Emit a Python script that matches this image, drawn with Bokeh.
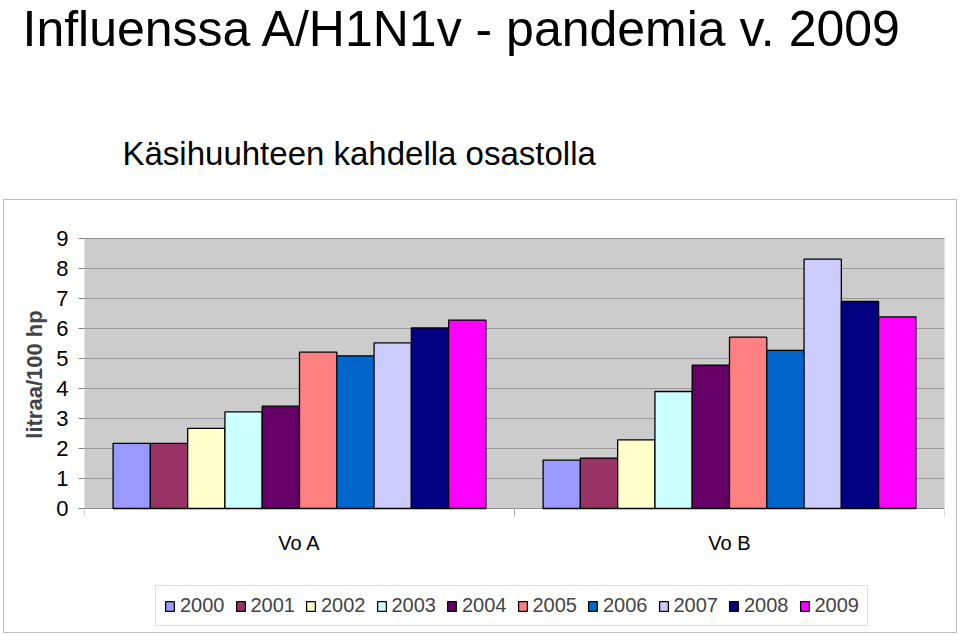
from bokeh.plotting import figure
from bokeh.models import (Range1d, FixedTicker, ColumnDataSource, Legend, LegendItem,
                          Title, BoxAnnotation)
from bokeh.core.properties import value
from bokeh.transform import dodge
from bokeh.embed import file_html
from bokeh.resources import INLINE

# ---- data ----
title_text = "Influenssa A/H1N1v - pandemia v. 2009"
subtitle_text = "Käsihuuhteen kahdella osastolla"
y_label = "litraa/100 hp"
departments = ["Vo A", "Vo B"]
years = ["2000", "2001", "2002", "2003", "2004", "2005", "2006", "2007", "2008", "2009"]
vo_a = [2.17, 2.17, 2.67, 3.22, 3.41, 5.21, 5.09, 5.52, 6.02, 6.28]
vo_b = [1.61, 1.68, 2.29, 3.90, 4.78, 5.71, 5.27, 8.31, 6.90, 6.39]
y_ticks = [0, 1, 2, 3, 4, 5, 6, 7, 8, 9]
colors = ["#9999FF", "#993366", "#FFFFCC", "#CCFFFF", "#660066",
          "#FF8080", "#0066CC", "#CCCCFF", "#000080", "#FF00FF"]

FONT = "Liberation Sans, Arial, sans-serif"

# ---- layout constants (pixels) ----
W, H = 960, 635
FRAME_L, FRAME_R, FRAME_T = 84, 944, 58
PLOT_TOP, PLOT_BOTTOM = 238, 508               # grey plot area (0..9)
y_max = max(y_ticks)
px_per_unit = (PLOT_BOTTOM - PLOT_TOP) / y_max
px_per_x = (FRAME_R - FRAME_L) / len(departments)

centers = [i + 0.5 for i in range(len(departments))]
edges = list(range(len(departments) + 1))
data = {"pos": centers}
for i, yr in enumerate(years):
    data[yr] = [vo_a[i], vo_b[i]]
source = ColumnDataSource(data=data)

p = figure(width=W, height=H, title=None,
           x_range=Range1d(0, len(departments)),
           y_range=Range1d((PLOT_BOTTOM - H) / px_per_unit, (PLOT_BOTTOM - FRAME_T) / px_per_unit),
           output_backend="svg", toolbar_location=None,
           x_axis_location=None, y_axis_location="left",
           min_border_left=FRAME_L, min_border_right=W - FRAME_R,
           min_border_top=FRAME_T, min_border_bottom=0)

# light frame round the chart area (decoration only)
p.stylesheets = [""":host { position: relative; }
:host::after { content: ''; position: absolute; left: 3px; top: 199px;
  width: 952px; height: 432px; border: 1px solid #bfbfbf; pointer-events: none; }"""]

p.background_fill_color = "white"
p.border_fill_color = "white"
p.outline_line_color = None
p.xgrid.visible = False
p.ygrid.grid_line_color = "#999999"
p.ygrid.grid_line_width = 1

# grey plot area below the grid, and its border above the grid
p.add_layout(BoxAnnotation(left=edges[0], right=edges[-1], bottom=0, top=y_max,
                           fill_color="#cccccc", fill_alpha=1, line_color=None, level="image"))
p.add_layout(BoxAnnotation(left=edges[0], right=edges[-1], bottom=0, top=y_max,
                           fill_alpha=0, line_color="#808080", line_width=1, level="underlay"))

# main title
main = Title(text=title_text, text_font=FONT, text_font_size="50px",
             text_font_style="normal", text_color="black", align="left",
             vertical_align="top", offset=22 - FRAME_L, standoff=0)
p.add_layout(main, "above")

# subtitle
p.text(x=[(122 - FRAME_L) / px_per_x], y=[(PLOT_BOTTOM - 153) / px_per_unit], text=[subtitle_text],
       text_font=value(FONT), text_font_size=value("33px"), text_color="black",
       text_baseline="alphabetic", text_align="left")

# y axis
ya = p.yaxis[0]
ya.ticker = FixedTicker(ticks=y_ticks)
frame_mid = (FRAME_T + H) / 2
plot_mid = (PLOT_TOP + PLOT_BOTTOM) / 2
pad = "\u00a0" * max(0, round(2 * (plot_mid - frame_mid) / 6.1))  # centre label on plot area
ya.axis_label = y_label + pad
ya.axis_label_text_font = FONT
ya.axis_label_text_font_style = "bold"
ya.axis_label_text_font_size = "22px"
ya.axis_label_standoff = 6
ya.major_label_text_font = FONT
ya.major_label_text_font_size = "22px"
ya.major_label_text_color = "black"
ya.major_label_standoff = 10
ya.axis_line_color = None
ya.major_tick_line_color = "#808080"
ya.major_tick_out = 6
ya.major_tick_in = 0
ya.minor_tick_out = 0
ya.minor_tick_in = 0

# category axis: tick marks at category edges, labels at centres
p.segment(x0=edges, x1=edges, y0=[0] * len(edges), y1=[-8 / px_per_unit] * len(edges),
          line_color="#b0b0b0", line_width=1)
p.text(x=centers, y=[(PLOT_BOTTOM - 542) / px_per_unit] * len(centers), text=departments,
       text_font=value(FONT), text_font_size=value("20px"), text_color="black",
       text_baseline="alphabetic", text_align="center")

# bars
n = len(years)
bar_w = 0.0867
items = []
for i, yr in enumerate(years):
    off = (i - (n - 1) / 2) * bar_w
    r = p.vbar(x=dodge("pos", off), top=yr, width=bar_w, bottom=0,
               source=source, fill_color=colors[i], line_color="black", line_width=1.3)
    items.append(LegendItem(label=yr, renderers=[r]))

legend = Legend(items=items, orientation="horizontal", location=(155 - FRAME_L, H - 626),
                margin=0, padding=8, spacing=10, glyph_width=11, glyph_height=12,
                label_standoff=5, label_text_font=FONT, label_text_font_size="20px",
                border_line_color="#c0c0c0", border_line_width=1,
                background_fill_color="white", background_fill_alpha=1)
p.add_layout(legend, "center")

open("out.html", "w").write(file_html(p, INLINE))
